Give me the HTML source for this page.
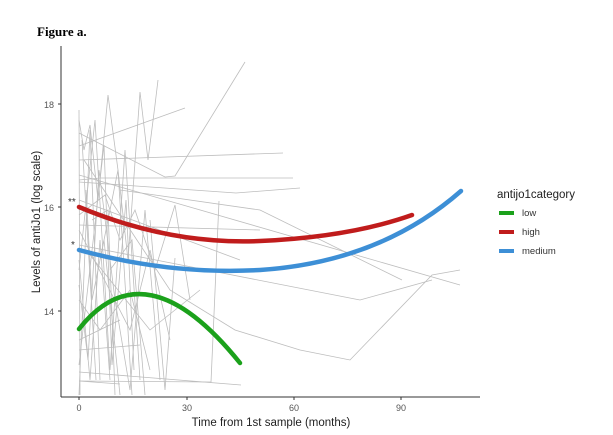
<!DOCTYPE html>
<html><head><meta charset="utf-8"><style>
body{margin:0;background:#fff;}
svg{display:block;font-family:"Liberation Sans",sans-serif;}
</style></head><body>
<svg width="613" height="435" viewBox="0 0 613 435" xmlns="http://www.w3.org/2000/svg">
<text x="37" y="36" font-family="Liberation Serif" font-weight="bold" font-size="13">Figure a.</text>
<g stroke="#bdbdbd" stroke-width="0.8" fill="none">
<polyline points="79,120 84,150 90,125 98,200 108,95 118,170 128,260 140,92 148,160 155,105 158,80"/>
<polyline points="79,133 165,177 175,176 245,62"/>
<polyline points="79,146 185,108"/>
<polyline points="79,160 283,153"/>
<polyline points="79,180 100,178 293,178"/>
<polyline points="79,182 236,193 300,188"/>
<polyline points="79,200 240,260"/>
<polyline points="79,215 105,195 120,240 135,210 155,270 175,205 190,300"/>
<polyline points="79,230 130,330 150,250 170,340"/>
<polyline points="79,245 360,300 432,280"/>
<polyline points="79,260 90,380 100,240 110,380"/>
<polyline points="79,270 95,120 110,370 125,150 140,380"/>
<polyline points="79,285 88,360 99,170 115,300 130,390 145,210 160,380"/>
<polyline points="79,300 100,330 130,290 150,370"/>
<polyline points="79,340 120,320"/>
<polyline points="79,350 140,345"/>
<polyline points="79,372 241,385"/>
<polyline points="79,381 211,382 219,201"/>
<polyline points="79,381 120,384"/>
<polyline points="79,395 90,130 100,380"/>
<polyline points="79,365 104,145 112,365 126,200 134,370"/>
<polyline points="82,140 96,380"/>
<polyline points="86,190 92,300 104,240 120,395"/>
<polyline points="150,220 165,390 175,258"/>
<polyline points="84,160 170,290 235,330 300,350 350,360 432,275 460,270"/>
<polyline points="120,190 260,210 402,280"/>
<polyline points="79,175 460,285"/>
<polyline points="79,110 80,395"/>
<polyline points="86,250 150,330 200,290"/>
<polyline points="92,220 108,210 115,395"/>
<polyline points="100,260 118,170 132,395"/>
<polyline points="110,270 132,240 145,395"/>
<polyline points="79,225 260,230"/>
</g>
<g fill="none" stroke-linecap="round">
<path d="M79,207 Q170,245 260,241 Q350,237 412,215" stroke="#c01c1c" stroke-width="4.5"/>
<path d="M79,250 Q170,275 260,270 Q380,262 461,191" stroke="#3d8fd6" stroke-width="4.5"/>
<path d="M79,329 Q145,245 240,363" stroke="#1ba11b" stroke-width="4.5"/>
</g>
<text x="68" y="205" font-size="10" fill="#333">**</text>
<text x="71" y="248" font-size="10" fill="#333">*</text>
<g stroke="#333" stroke-width="1">
<line x1="61" y1="46" x2="61" y2="397"/>
<line x1="61" y1="397" x2="480" y2="397"/>
<line x1="58" y1="104" x2="61" y2="104"/><line x1="58" y1="207" x2="61" y2="207"/><line x1="58" y1="311" x2="61" y2="311"/>
<line x1="79" y1="397" x2="79" y2="400"/><line x1="187" y1="397" x2="187" y2="400"/><line x1="294" y1="397" x2="294" y2="400"/><line x1="401" y1="397" x2="401" y2="400"/>
</g>
<g font-size="9" fill="#555">
<text x="54" y="108" text-anchor="end">18</text>
<text x="54" y="211" text-anchor="end">16</text>
<text x="54" y="315" text-anchor="end">14</text>
<text x="79" y="411" text-anchor="middle">0</text>
<text x="187" y="411" text-anchor="middle">30</text>
<text x="294" y="411" text-anchor="middle">60</text>
<text x="401" y="411" text-anchor="middle">90</text>
</g>
<text x="271" y="426" font-size="11.5" text-anchor="middle" fill="#222">Time from 1st sample (months)</text>
<text transform="translate(40,222) rotate(-90)" font-size="11.5" text-anchor="middle" fill="#222">Levels of antiJo1 (log scale)</text>
<text x="497" y="198" font-size="11.5" fill="#222">antijo1category</text>
<g stroke-width="4">
<line x1="499" y1="213" x2="514" y2="213" stroke="#1ba11b"/>
<line x1="499" y1="232" x2="514" y2="232" stroke="#c01c1c"/>
<line x1="499" y1="251" x2="514" y2="251" stroke="#3d8fd6"/>
</g>
<g font-size="9.5" fill="#333">
<text x="522" y="216">low</text>
<text x="522" y="235">high</text>
<text x="522" y="254">medium</text>
</g>
</svg>
</body></html>
